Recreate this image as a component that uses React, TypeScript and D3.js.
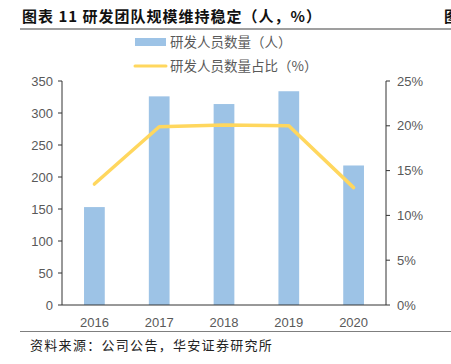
import React from "react";
import * as d3 from "d3";

const years = ["2016", "2017", "2018", "2019", "2020"];
const staff = [153, 326, 314, 334, 218];
const ratio = [13.5, 19.9, 20.1, 20.0, 13.1];
const leftTicks = [0, 50, 100, 150, 200, 250, 300, 350];
const rightTicks = [0, 5, 10, 15, 20, 25];

const W = 451;
const H = 364;
const M = { left: 62, right: 386, top: 81, bottom: 305 };
const FONT = "'Liberation Sans', Arial, sans-serif";
const CJK = "'Noto Sans CJK SC', sans-serif";
const TXT = "#595959";

export default function App() {
  const x = d3.scaleBand<string>().domain(years).range([M.left, M.right]).paddingInner(0.68).paddingOuter(0.34);
  const yL = d3.scaleLinear().domain([0, 350]).range([M.bottom, M.top]);
  const yR = d3.scaleLinear().domain([0, 25]).range([M.bottom, M.top]);
  const xc = (d: string) => (x(d) as number) + x.bandwidth() / 2;
  const line = d3
    .line<number>()
    .x((_, i) => xc(years[i]))
    .y((d) => yR(d));

  return (
    <svg width={W} height={H} style={{ position: "absolute", left: 0, top: 0, background: "#fff" }}>
      <text x={22} y={22} fontFamily={CJK} fontWeight="bold" fontSize={15} fill="#111" letterSpacing={1}>
        图表 11 研发团队规模维持稳定（人，%）
      </text>
      <text x={444} y={22} fontFamily={CJK} fontWeight="bold" fontSize={15} fill="#111">
        图
      </text>
      <line x1={20} x2={451} y1={29} y2={29} stroke="#7f7f7f" strokeWidth={1.6} />

      {/* legend */}
      <rect x={135} y={38} width={31} height={8} fill="#9DC3E6" />
      <text x={170} y={46.5} fontFamily={CJK} fontSize={13.5} fill={TXT}>
        研发人员数量（人）
      </text>
      <line x1={135} x2={166} y1={66} y2={66} stroke="#FFD75E" strokeWidth={3} strokeLinecap="round" />
      <text x={170} y={71} fontFamily={CJK} fontSize={13.5} fill={TXT}>
        研发人员数量占比（%）
      </text>

      {/* bars */}
      {staff.map((v, i) => (
        <rect key={years[i]} x={x(years[i])} y={yL(v)} width={x.bandwidth()} height={M.bottom - yL(v)} fill="#9DC3E6" />
      ))}

      {/* line */}
      <path d={line(ratio) || ""} fill="none" stroke="#FFD75E" strokeWidth={3.5} strokeLinecap="round" strokeLinejoin="round" />

      {/* left axis */}
      <line x1={M.left} x2={M.left} y1={M.top} y2={M.bottom} stroke="#333" strokeWidth={1} />
      {leftTicks.map((t) => (
        <g key={"l" + t}>
          <line x1={M.left - 4} x2={M.left} y1={yL(t)} y2={yL(t)} stroke="#333" />
          <text x={53} y={yL(t)} dy="0.35em" textAnchor="end" fontFamily={FONT} fontSize={13} fill={TXT}>
            {t}
          </text>
        </g>
      ))}

      {/* right axis */}
      <line x1={M.right} x2={M.right} y1={M.top} y2={M.bottom} stroke="#333" strokeWidth={1} />
      {rightTicks.map((t) => (
        <g key={"r" + t}>
          <line x1={M.right} x2={M.right + 4} y1={yR(t)} y2={yR(t)} stroke="#333" />
          <text x={397} y={yR(t)} dy="0.35em" textAnchor="start" fontFamily={FONT} fontSize={13} fill={TXT}>
            {t}%
          </text>
        </g>
      ))}

      {/* bottom axis */}
      <line x1={M.left} x2={M.right} y1={M.bottom} y2={M.bottom} stroke="#333" strokeWidth={1} />
      {years.map((d) => (
        <text key={d} x={xc(d)} y={322} dy="0.35em" textAnchor="middle" fontFamily={FONT} fontSize={13} fill={TXT}>
          {d}
        </text>
      ))}

      <line x1={20} x2={451} y1={331.5} y2={331.5} stroke="#7f7f7f" strokeWidth={1.2} />
      <text x={30} y={350} fontFamily={CJK} fontSize={13} fill="#222" letterSpacing={1.3}>
        资料来源：公司公告，华安证券研究所
      </text>
    </svg>
  );
}
